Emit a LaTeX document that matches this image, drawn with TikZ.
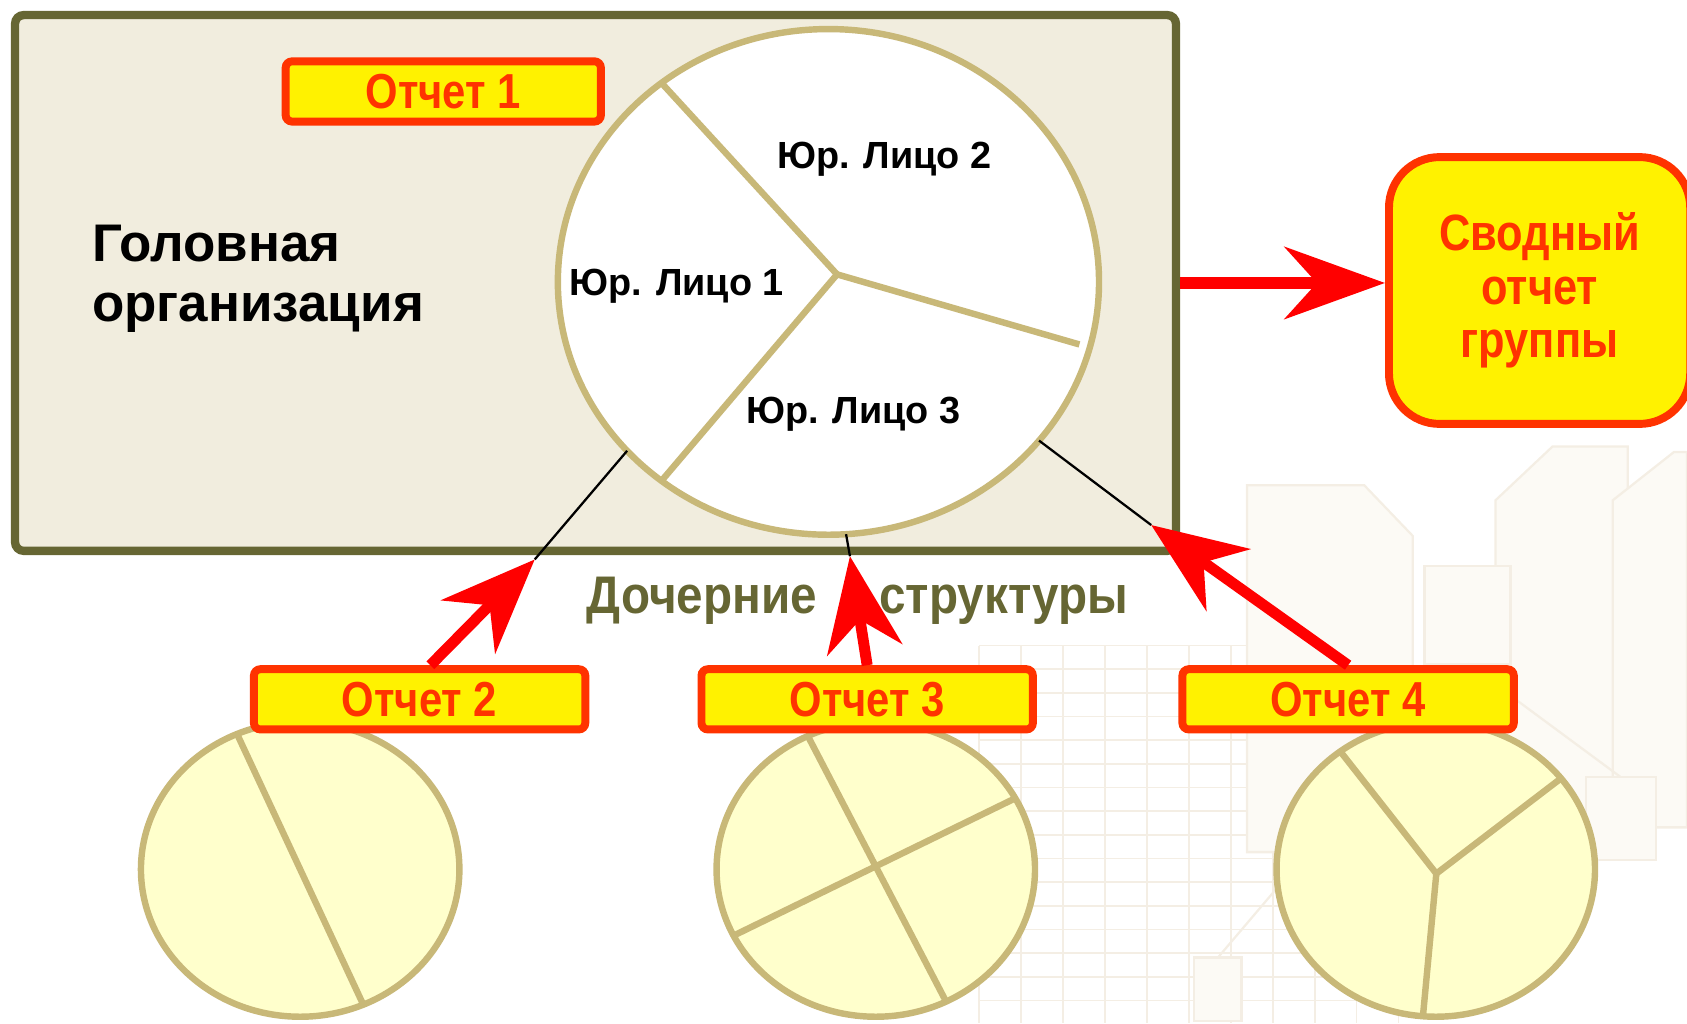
\documentclass[tikz,border=0pt]{standalone}
\usepackage{fontspec}
\setmainfont{Liberation Sans}
\newfontfamily\narrowfont[FakeStretch=0.85]{Liberation Sans}
\newfontfamily\kidsfont[FakeStretch=0.9]{Liberation Sans}
\usetikzlibrary{shapes.geometric,arrows.meta,positioning,calc}

\definecolor{olive}{HTML}{666633}
\definecolor{paper}{HTML}{F1EDDE}
\definecolor{tan}{HTML}{C8B878}
\definecolor{cream}{HTML}{FFFFCC}
\definecolor{repline}{HTML}{FF3300}
\definecolor{wline}{HTML}{F4EEE4}
\definecolor{wfill}{HTML}{FCFAF5}

\tikzset{
  report/.style={draw=repline, fill=yellow, line width=2.1pt, rounded corners=0.6mm,
    minimum width=30.8mm, minimum height=5.6mm, inner sep=0pt,
    font=\narrowfont\bfseries\fontsize{13}{14}\selectfont, text=repline},
  pie/.style={ellipse, draw=tan, line width=1.7pt, inner sep=0pt, outer sep=0pt},
  slice/.style={draw=tan, line width=1.7pt},
  entity/.style={anchor=base, font=\bfseries\fontsize{10}{12}\selectfont},
  feed/.style={draw=red, line width=2.9pt,
    -{Stealth[length=25pt, width=20pt, inset=8pt]}},
  link/.style={draw=black, line width=0.6pt},
  wmark/.style={draw=wline, fill=wfill, line width=0.6pt},
}

\begin{document}
\begin{tikzpicture}[x=0.1mm, y=-0.1mm]
  \useasboundingbox (0,0) rectangle (1568,951);

  % faint background picture
  \foreach \gx in {910,949,...,1300} \draw[wline, line width=0.4pt] (\gx,600) -- (\gx,951);
  \foreach \gy in {600,622,...,951} \draw[wline, line width=0.4pt] (910,\gy) -- (1300,\gy);
  \draw[wmark] (1159,451) -- (1268,451) -- (1313,498) -- (1313,792) -- (1159,792) -- cycle;
  \draw[wmark] (1390,465) -- (1443,415) -- (1513,415) -- (1513,769) -- (1390,769) -- cycle;
  \draw[wmark] (1499,465) -- (1556,420) -- (1568,420) -- (1568,769) -- (1499,769) -- cycle;
  \draw[wmark] (1324,526) rectangle (1404,617);
  \draw[wline, line width=0.6pt] (1364,617) -- (1132,890) (1364,617) -- (1506,722);
  \draw[wmark] (1474,722) rectangle (1539,799);
  \draw[wmark] (1110,890) rectangle (1154,949);

  % head organisation
  \node[draw=olive, fill=paper, line width=2.2pt, rounded corners=0.8mm,
    minimum width=107.9mm, minimum height=49.8mm, inner sep=0pt] (org) at (553.5,263) {};
  \node[anchor=west, align=left, inner sep=0pt,
    font=\bfseries\fontsize{14}{15.8}\selectfont] (head) at (85,259) {Головная\\организация};

  % group of legal entities
  \node[pie, fill=white, minimum width=50.3mm, minimum height=47mm] (grp) at (770,262) {};
  \coordinate (gc) at (778,255);
  \draw[slice] (gc) -- (grp.130);
  \draw[slice] (gc) -- (grp.230);
  \draw[slice] (gc) -- ($(grp.center)!0.96!(grp.-14)$);
  \node[entity] (jl2) at (822,157) {Юр. Лицо 2};
  \node[entity] (jl1) at (629,275) {Юр. Лицо 1};
  \node[entity] (jl3) at (793,394) {Юр. Лицо 3};

  \node[report, minimum width=29.3mm] (rep1) at (412,85) {Отчет 1};

  % consolidated report
  \node[report, rounded corners=4.7mm, minimum width=28mm, minimum height=24.8mm,
    align=center, font=\narrowfont\bfseries\fontsize{13.5}{14.2}\selectfont]
    (sum) at (1431,270) {Сводный\\отчет\\группы};
  \draw[feed, line width=3.4pt, -{Stealth[length=26.5pt, width=19pt, inset=8.5pt]}]
    (org.east) -- (org.east -| sum.west);

  % subsidiaries
  \node[pie, fill=cream, minimum width=29.6mm, minimum height=27.4mm] (sub2) at (279,808) {};
  \draw[slice] (sub2.115) -- (sub2.-65);
  \node[pie, fill=cream, minimum width=29.6mm, minimum height=27.4mm] (sub3) at (814,808) {};
  \draw[slice] (sub3.117) -- (sub3.-62);
  \draw[slice] (sub3.27) -- (sub3.205);
  \node[pie, fill=cream, minimum width=29.6mm, minimum height=27.4mm] (sub4) at (1334.5,808) {};
  \coordinate (c4) at (1335,812);
  \draw[slice] (c4) -- (sub4.129);
  \draw[slice] (c4) -- (sub4.36);
  \draw[slice] (c4) -- (sub4.-95);

  \node[report] (rep2) at (390,650) {Отчет 2};
  \node[report] (rep3) at (806,650) {Отчет 3};
  \node[report] (rep4) at (1253,650) {Отчет 4};

  % reports go up to the group
  \coordinate (t2) at (497,520);
  \coordinate (t3) at (790,517);
  \coordinate (t4) at (1070,488);
  \draw[link] (grp.220) -- (t2);
  \draw[link] (grp.-86) -- (t3);
  \draw[link] (grp.-37) -- (t4);
  \draw[feed] ([xshift=1mm]rep2.north) -- (t2);
  \draw[feed] (rep3.north) -- (t3);
  \draw[feed] (rep4.north) -- (t4);

  \node[anchor=base, text=olive, font=\kidsfont\bfseries\fontsize{14}{16}\selectfont]
    (kids) at (797,570) {Дочерние\hspace{5.8mm}структуры};
\end{tikzpicture}
\end{document}
